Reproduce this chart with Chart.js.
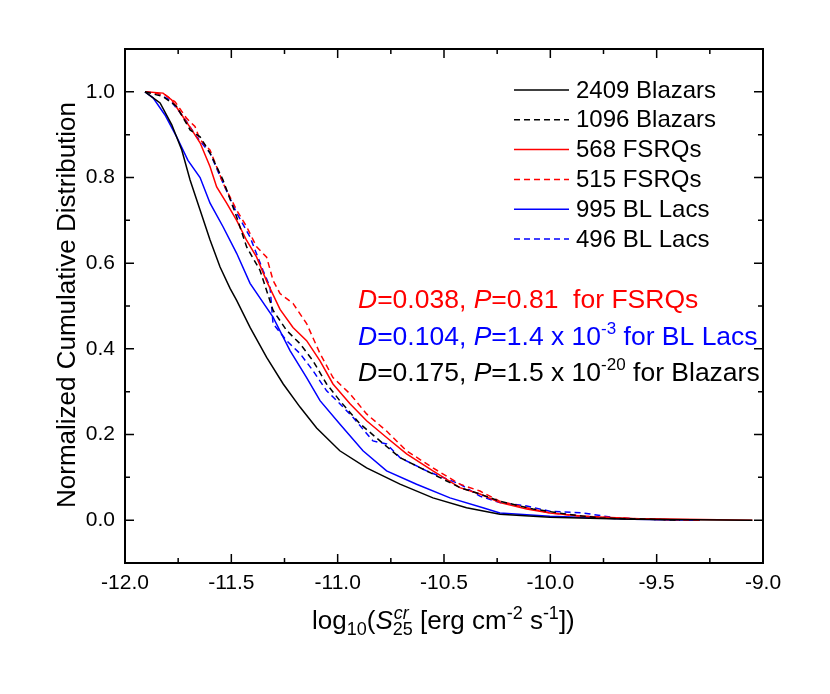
<!DOCTYPE html>
<html>
<head>
<meta charset="utf-8">
<script src="https://cdn.jsdelivr.net/npm/chart.js@4"></script>
<style>
  html, body { margin: 0; padding: 0; background: #fff; }
  canvas { display: block; }
</style>
</head>
<body>
<canvas id="cdf" width="830" height="694"></canvas>
<script>
// tick values
const xMajorTicks = [-12, -11.5, -11, -10.5, -10, -9.5, -9];
const xMinorTicks = [-11.75, -11.25, -10.75, -10.25, -9.75, -9.25];
const yMajorTicks = [0, 0.2, 0.4, 0.6, 0.8, 1.0];
const yMinorTicks = [0.1, 0.3, 0.5, 0.7, 0.9];

// 2409 Blazars (black solid)
const allBlazarsX = [-11.906, -11.835, -11.78, -11.733, -11.694, -11.647, -11.6, -11.553, -11.506, -11.475, -11.412, -11.334, -11.256, -11.177, -11.099, -10.99, -10.864, -10.707, -10.552, -10.394, -10.237, -10.002, -9.767, -9.612, -9.05];
const allBlazarsY = [1.0, 0.974, 0.923, 0.864, 0.794, 0.724, 0.654, 0.591, 0.541, 0.513, 0.45, 0.38, 0.318, 0.264, 0.215, 0.162, 0.122, 0.084, 0.052, 0.029, 0.014, 0.007, 0.004, 0.002, 0.0];

// 1096 Blazars (black dashed)
const subBlazarsX = [-11.906, -11.821, -11.757, -11.694, -11.647, -11.6, -11.539, -11.475, -11.428, -11.365, -11.304, -11.24, -11.177, -11.116, -11.052, -10.99, -10.895, -10.801, -10.707, -10.582, -10.425, -10.331, -10.237, -10.081, -9.923, -9.767, -9.39];
const subBlazarsY = [1.0, 0.989, 0.966, 0.911, 0.895, 0.857, 0.794, 0.708, 0.638, 0.583, 0.49, 0.443, 0.412, 0.372, 0.318, 0.279, 0.225, 0.185, 0.146, 0.115, 0.076, 0.061, 0.044, 0.026, 0.014, 0.005, 0.0];

// 568 FSRQs (red solid)
const allFsrqX = [-11.906, -11.821, -11.78, -11.733, -11.686, -11.647, -11.6, -11.569, -11.522, -11.475, -11.428, -11.381, -11.334, -11.271, -11.21, -11.146, -11.083, -11.022, -10.942, -10.864, -10.77, -10.676, -10.552, -10.425, -10.331, -10.237, -10.111, -10.002, -9.847, -9.612, -9.377, -9.05];
const allFsrqY = [1.0, 0.997, 0.981, 0.946, 0.911, 0.881, 0.825, 0.778, 0.74, 0.7, 0.653, 0.614, 0.558, 0.492, 0.45, 0.419, 0.372, 0.318, 0.272, 0.232, 0.193, 0.155, 0.115, 0.076, 0.061, 0.041, 0.026, 0.017, 0.009, 0.004, 0.002, 0.0];

// 515 FSRQs (red dashed)
const subFsrqX = [-11.906, -11.812, -11.765, -11.71, -11.671, -11.647, -11.6, -11.539, -11.475, -11.428, -11.381, -11.334, -11.304, -11.271, -11.21, -11.146, -11.083, -11.022, -10.942, -10.864, -10.77, -10.676, -10.552, -10.425, -10.331, -10.237, -10.111, -10.002, -9.847, -9.532, -9.3];
const subFsrqY = [1.0, 0.993, 0.977, 0.938, 0.919, 0.888, 0.864, 0.787, 0.724, 0.685, 0.638, 0.614, 0.56, 0.529, 0.506, 0.459, 0.389, 0.333, 0.295, 0.248, 0.208, 0.162, 0.122, 0.084, 0.068, 0.044, 0.029, 0.017, 0.009, 0.002, 0.0];

// 995 BL Lacs (blue solid)
const allBllacX = [-11.906, -11.868, -11.812, -11.757, -11.704, -11.647, -11.6, -11.539, -11.475, -11.412, -11.304, -11.224, -11.146, -11.083, -10.989, -10.881, -10.77, -10.629, -10.472, -10.317, -10.237, -10.002, -9.767, -9.612, -9.3];
const allBllacY = [1.0, 0.986, 0.946, 0.895, 0.84, 0.8, 0.74, 0.685, 0.623, 0.553, 0.474, 0.396, 0.333, 0.279, 0.224, 0.162, 0.115, 0.084, 0.052, 0.029, 0.017, 0.009, 0.005, 0.002, 0.0];

// 496 BL Lacs (blue dashed)
const subBllacX = [-11.906, -11.851, -11.788, -11.726, -11.663, -11.6, -11.539, -11.475, -11.412, -11.351, -11.318, -11.304, -11.24, -11.177, -11.116, -11.052, -10.99, -10.928, -10.834, -10.77, -10.707, -10.582, -10.425, -10.331, -10.237, -10.111, -10.002, -9.847, -9.688, -9.532, -9.297];
const subBllacY = [1.0, 0.997, 0.981, 0.942, 0.895, 0.857, 0.787, 0.717, 0.661, 0.583, 0.544, 0.459, 0.419, 0.389, 0.349, 0.302, 0.272, 0.24, 0.185, 0.178, 0.146, 0.115, 0.084, 0.056, 0.041, 0.033, 0.021, 0.017, 0.005, 0.002, 0.0];

const FONT = "'Liberation Sans', Arial, sans-serif";

function pts(xs, ys) {
  return xs.map((x, i) => ({ x: x, y: ys[i] }));
}

const series = [
  { label: '2409 Blazars', xs: allBlazarsX, ys: allBlazarsY, color: '#000000', dash: [] },
  { label: '1096 Blazars', xs: subBlazarsX, ys: subBlazarsY, color: '#000000', dash: [6, 4] },
  { label: '568 FSRQs', xs: allFsrqX, ys: allFsrqY, color: '#ff0000', dash: [] },
  { label: '515 FSRQs', xs: subFsrqX, ys: subFsrqY, color: '#ff0000', dash: [6, 4] },
  { label: '995 BL Lacs', xs: allBllacX, ys: allBllacY, color: '#0000ff', dash: [] },
  { label: '496 BL Lacs', xs: subBllacX, ys: subBllacY, color: '#0000ff', dash: [6, 4] }
];

// draws a row of text pieces, each {t, size, italic, dy}
function drawRuns(ctx, runs, x, y, color) {
  ctx.fillStyle = color;
  ctx.textBaseline = 'alphabetic';
  ctx.textAlign = 'left';
  let cx = x;
  runs.forEach(r => {
    ctx.font = (r.italic ? 'italic ' : '') + r.size + 'px ' + FONT;
    ctx.fillText(r.t, cx, y + (r.dy || 0));
    cx += ctx.measureText(r.t).width;
  });
  return cx;
}

const decorPlugin = {
  id: 'decor',
  afterDatasetsDraw(chart) {
    const ctx = chart.ctx;
    const area = chart.chartArea;
    const xs = chart.scales.x;
    const ys = chart.scales.y;
    ctx.save();

    // frame
    ctx.strokeStyle = '#000';
    ctx.lineWidth = 2;
    ctx.setLineDash([]);
    ctx.strokeRect(area.left, area.top, area.right - area.left, area.bottom - area.top);

    // inward ticks on all four sides
    ctx.lineWidth = 1.5;
    ctx.beginPath();
    const tickX = (v, len) => {
      const px = xs.getPixelForValue(v);
      ctx.moveTo(px, area.bottom); ctx.lineTo(px, area.bottom - len);
      ctx.moveTo(px, area.top); ctx.lineTo(px, area.top + len);
    };
    const tickY = (v, len) => {
      const py = ys.getPixelForValue(v);
      ctx.moveTo(area.left, py); ctx.lineTo(area.left + len, py);
      ctx.moveTo(area.right, py); ctx.lineTo(area.right - len, py);
    };
    xMajorTicks.forEach(v => tickX(v, 9));
    xMinorTicks.forEach(v => tickX(v, 5));
    yMajorTicks.forEach(v => tickY(v, 9));
    yMinorTicks.forEach(v => tickY(v, 5));
    ctx.stroke();

    // legend
    ctx.lineWidth = 1.5;
    series.forEach((s, i) => {
      const cy = 90 + i * 29.8;
      ctx.strokeStyle = s.color;
      ctx.setLineDash(s.dash);
      ctx.beginPath();
      ctx.moveTo(514, cy);
      ctx.lineTo(569, cy);
      ctx.stroke();
      ctx.setLineDash([]);
      ctx.fillStyle = '#000';
      ctx.font = '24px ' + FONT;
      ctx.textBaseline = 'middle';
      ctx.textAlign = 'left';
      ctx.fillText(s.label, 576, cy + 1);
    });

    // KS test annotations
    const fs = 26.5;
    const sup = 17;
    drawRuns(ctx, [
      { t: 'D', size: fs, italic: true }, { t: '=0.038, ', size: fs },
      { t: 'P', size: fs, italic: true }, { t: '=0.81  for FSRQs', size: fs }
    ], 358, 308, '#ff0000');
    drawRuns(ctx, [
      { t: 'D', size: fs, italic: true }, { t: '=0.104, ', size: fs },
      { t: 'P', size: fs, italic: true }, { t: '=1.4 x 10', size: fs },
      { t: '-3', size: sup, dy: -11 }, { t: ' for BL Lacs', size: fs }
    ], 358, 345, '#0000ff');
    drawRuns(ctx, [
      { t: 'D', size: fs, italic: true }, { t: '=0.175, ', size: fs },
      { t: 'P', size: fs, italic: true }, { t: '=1.5 x 10', size: fs },
      { t: '-20', size: sup, dy: -11 }, { t: ' for Blazars', size: fs }
    ], 358, 381, '#000000');

    // x axis title
    const tb = 629;
    let cx = drawRuns(ctx, [
      { t: 'log', size: 26 }, { t: '10', size: 18, dy: 6 }, { t: '(', size: 26 },
      { t: 'S', size: 26, italic: true }
    ], 312, tb, '#000');
    ctx.font = 'italic 18px ' + FONT;
    ctx.fillText('cr', cx + 1, tb - 10);
    const w1 = ctx.measureText('cr').width;
    ctx.font = '18px ' + FONT;
    ctx.fillText('25', cx, tb + 6);
    const w2 = ctx.measureText('25').width;
    cx += Math.max(w1 + 1, w2);
    drawRuns(ctx, [
      { t: ' [erg cm', size: 26 }, { t: '-2', size: 18, dy: -10 },
      { t: ' s', size: 26 }, { t: '-1', size: 18, dy: -10 }, { t: '])', size: 26 }
    ], cx, tb, '#000');

    // y axis title
    ctx.save();
    ctx.translate(68, 305);
    ctx.rotate(-Math.PI / 2);
    ctx.fillStyle = '#000';
    ctx.font = '26px ' + FONT;
    ctx.textAlign = 'center';
    ctx.textBaseline = 'middle';
    ctx.fillText('Normalized Cumulative Distribution', 0, 0);
    ctx.restore();

    ctx.restore();
  }
};

new Chart(document.getElementById('cdf'), {
  type: 'line',
  data: {
    datasets: series.map(s => ({
      label: s.label,
      data: pts(s.xs, s.ys),
      borderColor: s.color,
      borderWidth: 1.5,
      borderDash: s.dash,
      pointRadius: 0,
      tension: 0,
      fill: false
    }))
  },
  options: {
    responsive: false,
    animation: false,
    layout: { padding: { left: 0, top: 49, right: 67, bottom: 0 } },
    plugins: {
      legend: { display: false },
      tooltip: { enabled: false }
    },
    scales: {
      x: {
        type: 'linear',
        min: -12,
        max: -9,
        border: { display: false },
        grid: { display: false, drawTicks: false },
        afterBuildTicks: s => { s.ticks = xMajorTicks.map(v => ({ value: v })); },
        afterFit: s => { s.height = 131; },
        ticks: {
          padding: 8,
          color: '#000',
          font: { family: FONT, size: 21 },
          maxRotation: 0,
          callback: v => v.toFixed(1)
        }
      },
      y: {
        type: 'linear',
        min: -0.1,
        max: 1.1,
        border: { display: false },
        grid: { display: false, drawTicks: false },
        afterBuildTicks: s => { s.ticks = yMajorTicks.map(v => ({ value: v })); },
        afterFit: s => { s.width = 125; },
        ticks: {
          padding: 10,
          color: '#000',
          font: { family: FONT, size: 21 },
          callback: v => v.toFixed(1)
        }
      }
    }
  },
  plugins: [decorPlugin]
});
</script>
</body>
</html>
